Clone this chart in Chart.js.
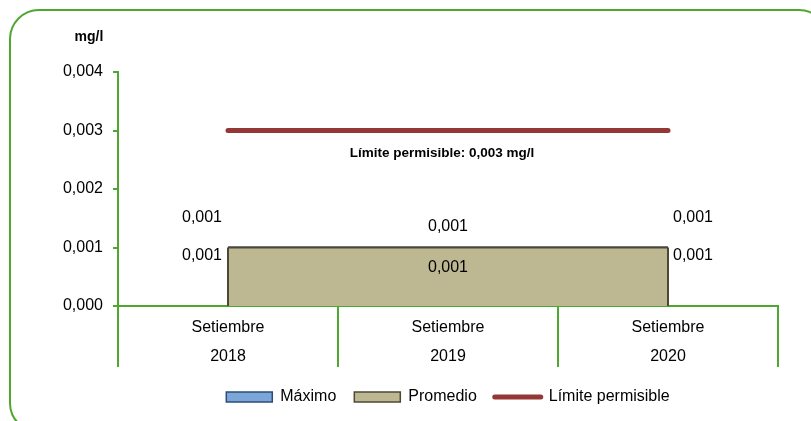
<!DOCTYPE html>
<html>
<head>
<meta charset="utf-8">
<script src="https://cdn.jsdelivr.net/npm/chart.js@4.4.1/dist/chart.umd.min.js"></script>
<style>
  html, body { margin:0; padding:0; background:#fff; overflow:hidden }
  .frame { position:absolute; left:9px; top:9px; width:820px; height:424px; border:2px solid #4ea72e; border-radius:30px; box-sizing:border-box }
  .wrap  { position:absolute; left:0; top:0; width:811px; height:421px }
</style>
</head>
<body>
<div class="frame"></div>
<div class="wrap"><canvas id="chart"></canvas></div>
<script>
const categorias = [['Setiembre', '2018'], ['Setiembre', '2019'], ['Setiembre', '2020']]
const maximo     = [0.001, 0.001, 0.001]
const promedio   = [0.001, 0.001, 0.001]
const limite     = [0.003, 0.003, 0.003]
const yTicks     = [0, 0.001, 0.002, 0.003, 0.004]
const unidad     = 'mg/l'
const limiteTxt  = 'Límite permisible: 0,003 mg/l'

const VERDE  = '#4ea72e'
const FUENTE = "'Liberation Sans Narrow', 'Arial Narrow', 'Liberation Sans', sans-serif"
const fmt = v => v.toFixed(3).replace('.', ',')

Chart.defaults.font.family = FUENTE
Chart.defaults.color = '#000'

// offsets of the value labels relative to each point (Máximo above, Promedio below)
const offMax  = [[-26, -30], [0, -21], [25, -30]]
const offProm = [[-26, 8], [0, 20], [25, 8]]

const extras = {
  id: 'extras',
  afterDatasetsDraw(chart) {
    const ctx = chart.ctx
    const prom = chart.getDatasetMeta(1).data
    const base = chart.scales.y.getPixelForValue(0)

    // outline the sides of the Promedio area
    ctx.save()
    ctx.strokeStyle = '#4d4834'
    ctx.lineWidth = 2
    ctx.beginPath()
    ctx.moveTo(prom[0].x, base)
    ctx.lineTo(prom[0].x, prom[0].y)
    ctx.moveTo(prom[prom.length - 1].x, prom[prom.length - 1].y)
    ctx.lineTo(prom[prom.length - 1].x, base)
    ctx.stroke()

    // value labels
    ctx.fillStyle = '#000'
    ctx.font = `16px ${FUENTE}`
    ctx.textAlign = 'center'
    ctx.textBaseline = 'middle'
    chart.getDatasetMeta(0).data.forEach((p, i) => {
      ctx.fillText(fmt(maximo[i]), p.x + offMax[i][0], p.y + offMax[i][1])
    })
    prom.forEach((p, i) => {
      ctx.fillText(fmt(promedio[i]), p.x + offProm[i][0], p.y + offProm[i][1])
    })

    // limit caption under the red line
    const lim = chart.getDatasetMeta(2).data
    ctx.font = `bold 13.5px ${FUENTE}`
    ctx.fillText(limiteTxt, (lim[0].x + lim[lim.length - 1].x) / 2 - 6, lim[0].y + 23)

    // unit over the y axis
    const ys = chart.scales.y
    ctx.font = `bold 14px ${FUENTE}`
    ctx.fillText(unidad, ys.right - 29, ys.top - 35)
    ctx.restore()
  },
}

new Chart(document.getElementById('chart'), {
  type: 'line',
  data: {
    labels: categorias,
    datasets: [
      {
        label:           'Máximo',
        data:            maximo,
        backgroundColor: '#7ba7d8',
        borderColor:     '#2c4d75',
        borderWidth:     2,
        fill:            'origin',
        pointRadius:     0,
        order:           2,
      },
      {
        label:           'Promedio',
        data:            promedio,
        backgroundColor: '#beb892',
        borderColor:     '#4d4834',
        borderWidth:     2,
        fill:            'origin',
        pointRadius:     0,
        order:           1,
      },
      {
        label:           'Límite permisible',
        data:            limite,
        borderColor:     '#953735',
        backgroundColor: '#953735',
        borderWidth:     5,
        borderCapStyle:  'round',
        fill:            false,
        pointRadius:     0,
        order:           0,
      },
    ],
  },
  options: {
    responsive: true, maintainAspectRatio: false, animation: false,
    layout: { padding: { top: 72, right: 33, left: 0, bottom: 6 } },
    plugins: {
      tooltip: { enabled: false },
      legend: {
        position: 'bottom',
        fullSize: false,
        labels: {
          usePointStyle:  true,
          pointStyleWidth: 46,
          boxHeight:      10,
          padding:        18,
          font:           { size: 16 },
          sort:           (a, b) => a.datasetIndex - b.datasetIndex,
          generateLabels(chart) {
            const items = Chart.defaults.plugins.legend.labels.generateLabels(chart)
            return items.map(it => {
              const ds = chart.data.datasets[it.datasetIndex]
              it.pointStyle = ds.fill === false ? 'line' : 'rect'
              it.lineWidth = ds.fill === false ? 5 : 1.5
              it.lineCap = 'round'
              return it
            })
          },
        },
      },
    },
    scales: {
      x: {
        offset: true,
        grid:   { offset: true, drawOnChartArea: false, tickLength: 61, color: VERDE, lineWidth: 2 },
        border: { color: VERDE, width: 2 },
        ticks:  { padding: -54, font: { size: 16, lineHeight: 1.8 }, color: '#000' },
        afterFit(scale) { scale.height = 65 },
      },
      y: {
        min: 0, max: 0.004,
        afterBuildTicks(scale) { scale.ticks = yTicks.map(v => ({ value: v })) },
        grid:   { drawOnChartArea: false, tickLength: 5, color: VERDE, lineWidth: 2 },
        border: { color: VERDE, width: 2 },
        ticks:  { padding: 10, font: { size: 16 }, color: '#000', callback: v => fmt(v) },
        afterFit(scale) { scale.width = 118 },
      },
    },
  },
  plugins: [extras],
})
</script>
</body>
</html>
